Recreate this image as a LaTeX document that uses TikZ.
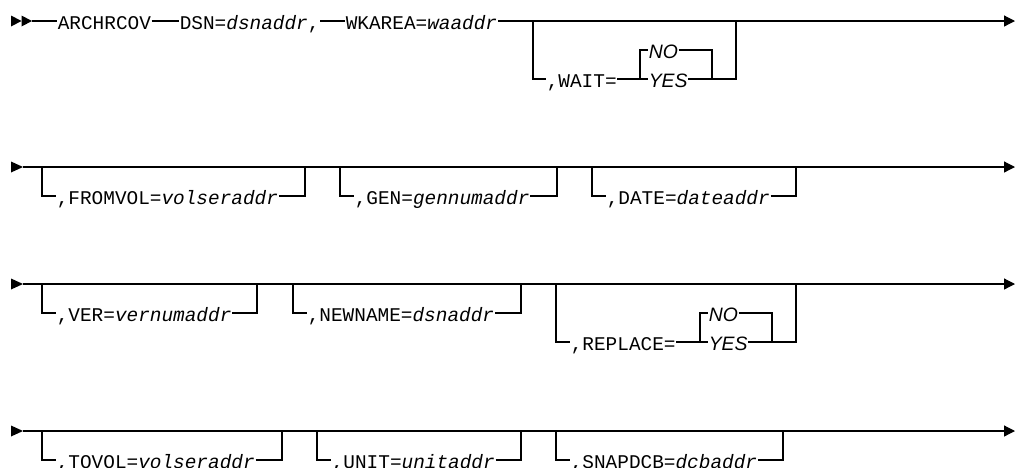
\documentclass[tikz,border=0pt]{standalone}
\usepackage{fontspec}
\setmonofont{Liberation Mono}
\newfontfamily\optfont{Liberation Sans}
\usetikzlibrary{arrows.meta}

\begin{document}
\begin{tikzpicture}[x=1pt,y=-1pt,
  rail/.style={line width=1.2pt},
  railend/.style={rail,-{Triangle[length=11pt,width=11pt]}},
  kw/.style={font=\ttfamily\fontsize{19.4}{22}\selectfont,inner sep=0.6pt,
    text height=16pt,text depth=0pt,anchor=west},
  opt/.style={kw,font=\optfont\itshape\fontsize{19.4}{22}\selectfont}]
\useasboundingbox (0,0) rectangle (1015,467);

% row 1
\fill (11,15.5)--(21.5,21)--(11,26.5)--cycle;
\fill (21.5,15.5)--(32,21)--(21.5,26.5)--cycle;
\coordinate (s1) at (32,21);
\coordinate (e1) at (1015,21);
\node[kw] (archr) at (57,21) {ARCHRCOV};
\node[kw] (dsn) at (179,21) {DSN=\textit{dsnaddr},};
\node[kw] (wkarea) at (345,21) {WKAREA=\textit{waaddr}};
\draw[rail] (s1) -- (archr.west);
\draw[rail] (archr.east) -- (dsn.west);
\draw[rail] (dsn.east) -- (wkarea.west);
\draw[railend] (wkarea.east) -- (e1);

\coordinate (wa1) at (533,21);
\coordinate (wa2) at (533,79);
\coordinate (wa3) at (640,79);
\coordinate (wa4) at (640,50);
\coordinate (wa5) at (712,50);
\coordinate (wa6) at (712,79);
\coordinate (wa7) at (736,79);
\coordinate (wa8) at (736,21);
\node[kw] (wait) at (546,79) {,WAIT=};
\node[opt] (waitno) at (648,50) {NO};
\node[opt] (waityes) at (648,79) {YES};
\draw[rail] (wa1) -- (wa2) -- (wait.west);
\draw[rail] (wait.east) -- (wa3) -- (wa4) -- (waitno.west);
\draw[rail] (wa3) -- (waityes.west);
\draw[rail] (waitno.east) -- (wa5) -- (wa6);
\draw[rail] (waityes.east) -- (wa7) -- (wa8);

% row 2
\coordinate (s2) at (23,167);
\coordinate (e2) at (1015,167);
\draw[railend] (s2) -- (e2);
\node[kw] (fromvol) at (56,196) {,FROMVOL=\textit{volseraddr}};
\node[kw] (gen) at (354,196) {,GEN=\textit{gennumaddr}};
\node[kw] (date) at (606,196) {,DATE=\textit{dateaddr}};
\draw[rail] (42,167) -- (42,196) -- (fromvol.west);
\draw[rail] (fromvol.east) -- (305,196) -- (305,167);
\draw[rail] (340,167) -- (340,196) -- (gen.west);
\draw[rail] (gen.east) -- (557,196) -- (557,167);
\draw[rail] (592,167) -- (592,196) -- (date.west);
\draw[rail] (date.east) -- (796,196) -- (796,167);

% row 3
\coordinate (s3) at (23,284);
\coordinate (e3) at (1015,284);
\draw[railend] (s3) -- (e3);
\node[kw] (ver) at (56,313) {,VER=\textit{vernumaddr}};
\node[kw] (newname) at (307,313) {,NEWNAME=\textit{dsnaddr}};
\draw[rail] (42,284) -- (42,313) -- (ver.west);
\draw[rail] (ver.east) -- (257,313) -- (257,284);
\draw[rail] (293,284) -- (293,313) -- (newname.west);
\draw[rail] (newname.east) -- (521,313) -- (521,284);

\coordinate (re1) at (556,284);
\coordinate (re2) at (556,342);
\coordinate (re3) at (700,342);
\coordinate (re4) at (700,313);
\coordinate (re5) at (772,313);
\coordinate (re6) at (772,342);
\coordinate (re7) at (796,342);
\coordinate (re8) at (796,284);
\node[kw] (replace) at (570,342) {,REPLACE=};
\node[opt] (replno) at (708,313) {NO};
\node[opt] (replyes) at (708,342) {YES};
\draw[rail] (re1) -- (re2) -- (replace.west);
\draw[rail] (replace.east) -- (re3) -- (re4) -- (replno.west);
\draw[rail] (re3) -- (replyes.west);
\draw[rail] (replno.east) -- (re5) -- (re6);
\draw[rail] (replyes.east) -- (re7) -- (re8);

% row 4
\coordinate (s4) at (23,431);
\coordinate (e4) at (1015,431);
\draw[railend] (s4) -- (e4);
\node[kw] (tovol) at (56,460) {,TOVOL=\textit{volseraddr}};
\node[kw] (unit) at (331,460) {,UNIT=\textit{unitaddr}};
\node[kw] (snapdcb) at (570,460) {,SNAPDCB=\textit{dcbaddr}};
\draw[rail] (42,431) -- (42,460) -- (tovol.west);
\draw[rail] (tovol.east) -- (282,460) -- (282,431);
\draw[rail] (317,431) -- (317,460) -- (unit.west);
\draw[rail] (unit.east) -- (521,460) -- (521,431);
\draw[rail] (556,431) -- (556,460) -- (snapdcb.west);
\draw[rail] (snapdcb.east) -- (783,460) -- (783,431);

% row start marks
\foreach \y in {167,284,431}
  \fill (11,\y-5.5)--(23,\y)--(11,\y+5.5)--cycle;
\end{tikzpicture}
\end{document}
